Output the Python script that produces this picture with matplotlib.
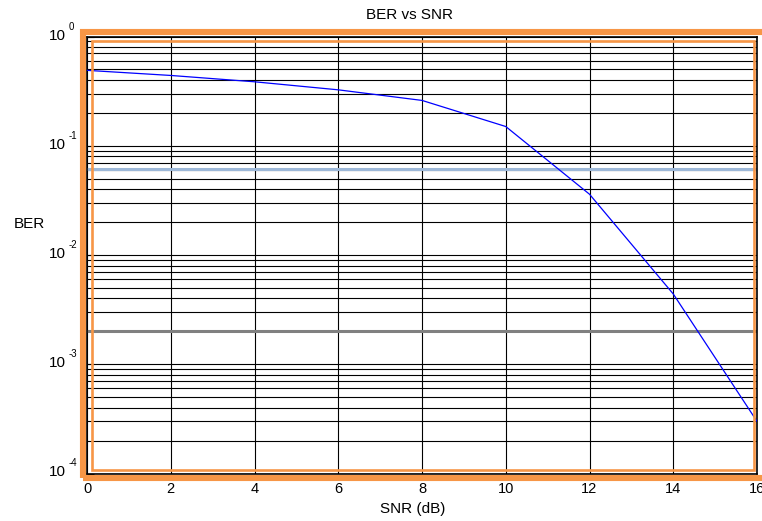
import numpy as np
import matplotlib.pyplot as plt
from matplotlib.patches import Rectangle
from matplotlib.transforms import blended_transform_factory, offset_copy

plt.rcParams['font.family'] = ['Liberation Sans', 'DejaVu Sans']

snr = [0, 2, 4, 6, 8, 10, 12, 14, 16]
ber = [0.49, 0.44, 0.385, 0.325, 0.26, 0.15, 0.036, 0.0044, 0.0003]
ref_blue = 0.061
ref_gray = 0.002
xticks = [0, 2, 4, 6, 8, 10, 12, 14, 16]
yexps = [0, -1, -2, -3, -4]

W, H = 762, 521
fig = plt.figure(figsize=(W / 100, H / 100), dpi=100)
L, R, T, B = 87, 757, 36.5, 473.5
ax = fig.add_axes([L / W, 1 - B / H, (R - L) / W, (B - T) / H])

ax.set_yscale('log')
ax.set_xlim(0, 16)
ax.set_ylim(1e-4, 1)

ax.grid(True, which='major', color='black', lw=0.8)
ax.grid(True, which='minor', axis='y', color='black', lw=0.8)
ax.axhline(ref_blue, color='#9db8d8', lw=2.2, zorder=2)
ax.axhline(ref_gray, color='#808080', lw=2.2, zorder=2)
ax.plot(snr, ber, color='blue', lw=0.9, zorder=3)

ax.set_xticks(xticks)
ax.set_xticklabels([str(v) for v in xticks], fontsize=10.5)
ax.tick_params(axis='x', length=0, pad=6)
ax.tick_params(axis='y', which='both', direction='in', length=5, labelleft=False)
for s in ax.spines.values():
    s.set_linewidth(1.2)

trans = blended_transform_factory(fig.transFigure, ax.transData)
for e in yexps:
    fig.text(66 / W, 10.0 ** e, '10', transform=offset_copy(trans, fig=fig, y=1, units='dots'),
             fontsize=11, ha='right', va='center')
    fig.text(69 / W, 10.0 ** e, str(e), transform=offset_copy(trans, fig=fig, y=10, units='dots'),
             fontsize=7, ha='left', va='center')

# orange frames
fig.patches.append(Rectangle((83 / W, 1 - 477.5 / H), (775 - 83) / W, (477.5 - 32) / H,
                             transform=fig.transFigure, fill=False,
                             edgecolor='#f79646', lw=4.4, zorder=5))
fig.patches.append(Rectangle((92 / W, 1 - 469.5 / H), (753.5 - 92) / W, (469.5 - 41) / H,
                             transform=fig.transFigure, fill=False,
                             edgecolor='#f79646', lw=1.9, zorder=5))

fig.text(410 / W, 1 - 15 / H, 'BER vs SNR', fontsize=11, ha='center', va='center')
fig.text(413 / W, 1 - 509 / H, 'SNR (dB)', fontsize=11, ha='center', va='center')
fig.text(29 / W, 1 - 224 / H, 'BER', fontsize=11, ha='center', va='center')

fig.savefig('out.png', dpi=100)
